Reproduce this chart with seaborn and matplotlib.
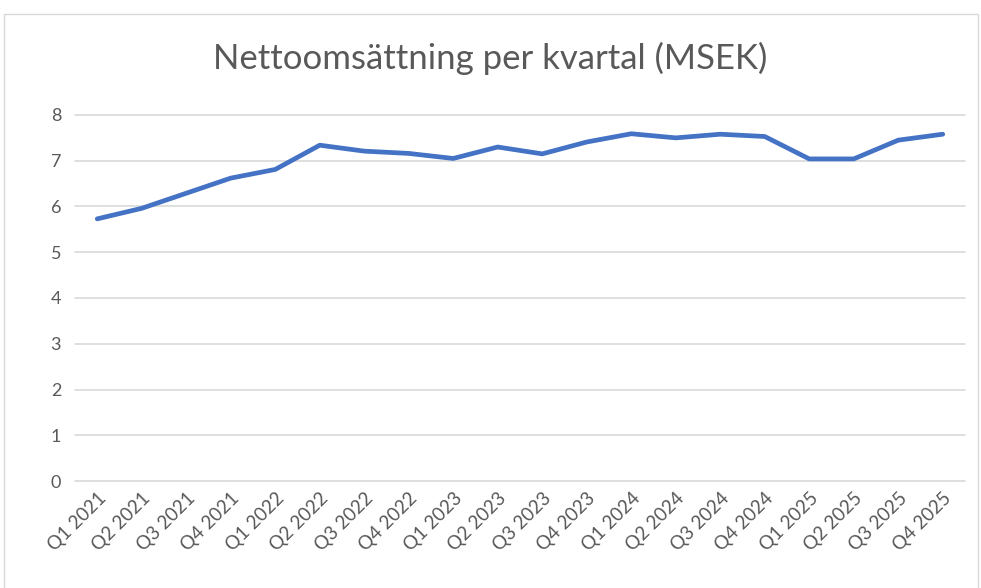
import matplotlib
matplotlib.use("Agg")
import matplotlib.pyplot as plt
import seaborn as sns
import pandas as pd
from matplotlib.patches import Rectangle

quarters = ["Q1 2021", "Q2 2021", "Q3 2021", "Q4 2021",
            "Q1 2022", "Q2 2022", "Q3 2022", "Q4 2022",
            "Q1 2023", "Q2 2023", "Q3 2023", "Q4 2023",
            "Q1 2024", "Q2 2024", "Q3 2024", "Q4 2024",
            "Q1 2025", "Q2 2025", "Q3 2025", "Q4 2025"]
revenue = [5.73, 5.96, 6.29, 6.62,
           6.81, 7.34, 7.21, 7.16,
           7.05, 7.30, 7.15, 7.41,
           7.59, 7.50, 7.58, 7.53,
           7.04, 7.04, 7.45, 7.58]
yticks = [0, 1, 2, 3, 4, 5, 6, 7, 8]
title = "Nettoomsättning per kvartal (MSEK)"

sns.set_theme(style="white")
plt.rcParams['font.family'] = ['Lato', 'DejaVu Sans']

df = pd.DataFrame({"Kvartal": quarters, "MSEK": revenue})
df["pos"] = range(len(df))

fig = plt.figure(figsize=(9.81, 5.88), dpi=100)
ax = fig.add_axes([75/981, 1-481/588, (965-75)/981, (481-115)/588])

sns.lineplot(data=df, x="pos", y="MSEK", ax=ax, color="#4472C4",
             linewidth=3.4, sort=False, solid_capstyle="round",
             solid_joinstyle="round")

ax.set_xlim(-0.5, len(quarters) - 0.5)
ax.set_ylim(0, 8)
ax.set_yticks(yticks)
ax.set_yticklabels([str(v) for v in yticks], color="#595959", fontsize=13)
ax.set_xticks(range(len(quarters)))
ax.set_xticklabels(quarters, rotation=45, ha="right", rotation_mode="anchor",
                   color="#595959", fontsize=13.5)
ax.tick_params(axis="both", length=0)
ax.tick_params(axis="y", pad=10)
ax.tick_params(axis="x", pad=6)
ax.set_xlabel("")
ax.set_ylabel("")
ax.grid(axis="y", color="#D9D9D9", linewidth=1.2)
for gl in ax.get_ygridlines():
    gl.set_clip_on(False)
ax.set_axisbelow(True)
for s in ax.spines.values():
    s.set_visible(False)

fig.text(0.5, 1-58/588, title, ha="center", va="center",
         fontsize=25, color="#595959")

fig.patches.append(Rectangle((4/981, -0.05), 974/981, 1.05 - 14/588,
                             transform=fig.transFigure, fill=False,
                             edgecolor="#D9D9D9", linewidth=1.0))

fig.savefig("out.png", dpi=100)
